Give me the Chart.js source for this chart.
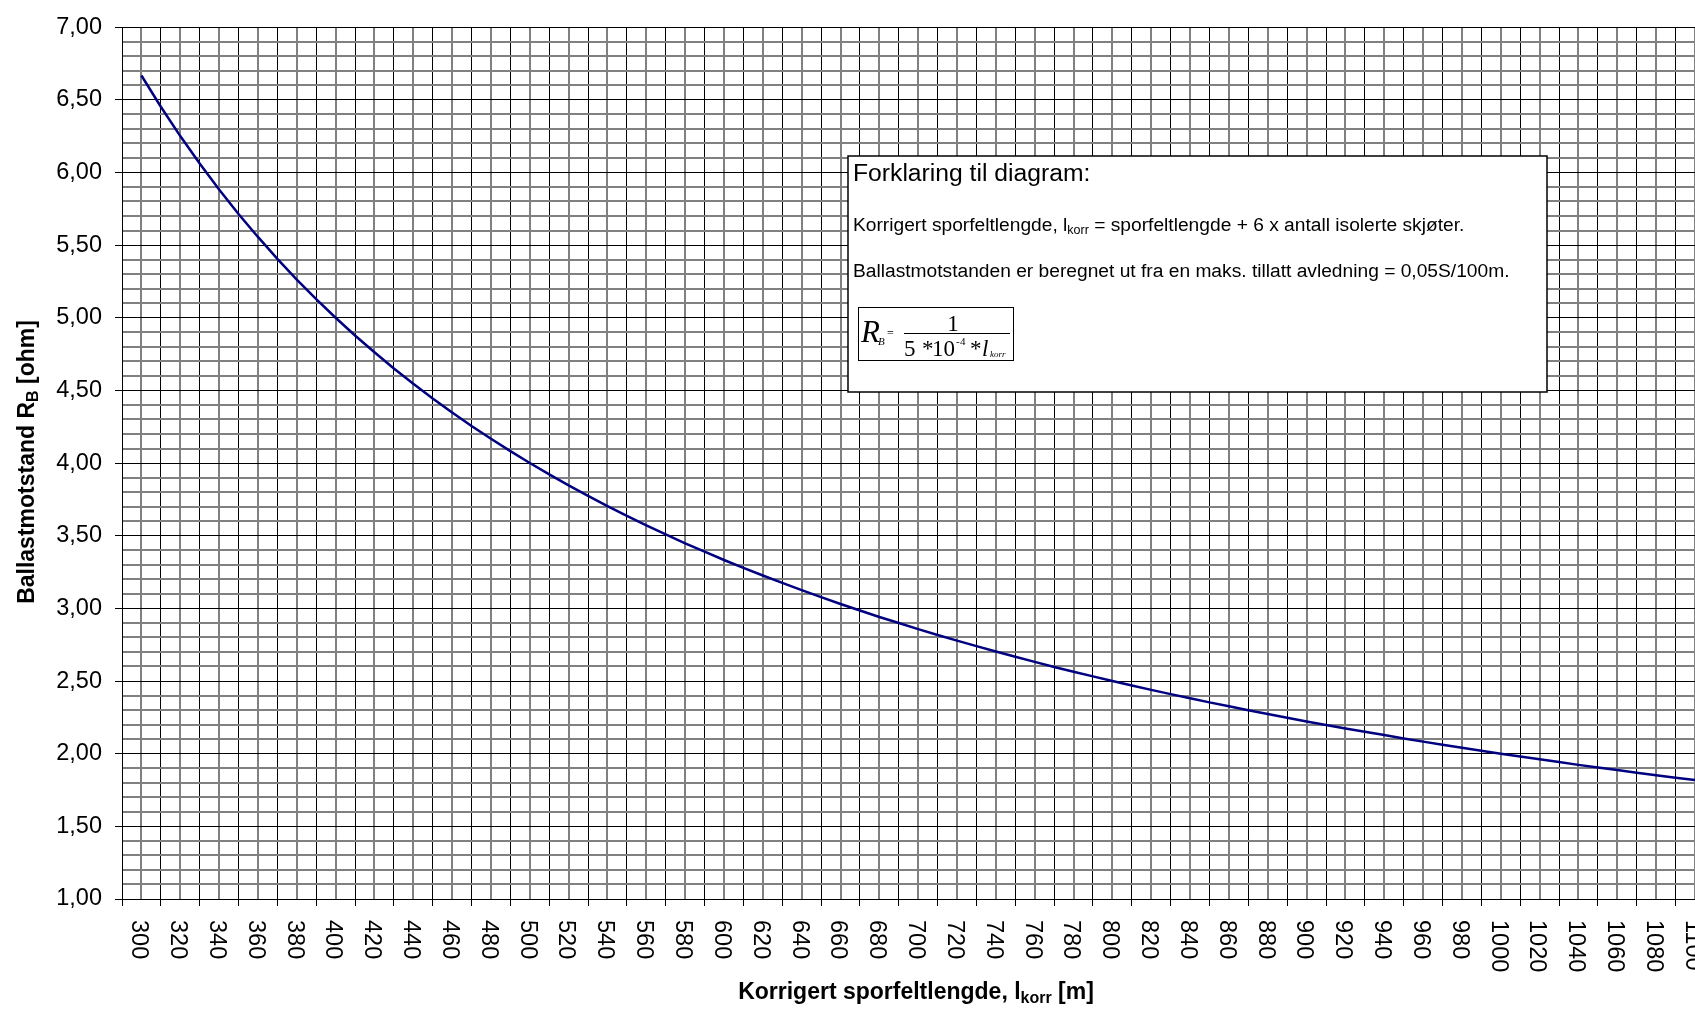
<!DOCTYPE html>
<html>
<head>
<meta charset="utf-8">
<script src="https://cdn.jsdelivr.net/npm/chart.js@4.4.1/dist/chart.umd.min.js"></script>
<style>
html, body { margin: 0; padding: 0; background: #fff; }
#wrap { width: 1695px; height: 1012px; }
</style>
</head>
<body>
<div id="wrap"><canvas id="chart"></canvas></div>
<script>
// korrigert sporfeltlengde [m]
const lengths = [
    300, 310, 320, 330, 340, 350, 360, 370, 380, 390,
    400, 410, 420, 430, 440, 450, 460, 470, 480, 490,
    500, 510, 520, 530, 540, 550, 560, 570, 580, 590,
    600, 610, 620, 630, 640, 650, 660, 670, 680, 690,
    700, 710, 720, 730, 740, 750, 760, 770, 780, 790,
    800, 810, 820, 830, 840, 850, 860, 870, 880, 890,
    900, 910, 920, 930, 940, 950, 960, 970, 980, 990,
    1000, 1010, 1020, 1030, 1040, 1050, 1060, 1070, 1080, 1090,
    1100
];

// ballastmotstand R_B [ohm]
const resistance = [
    6.667, 6.452, 6.250, 6.061, 5.882, 5.714, 5.556, 5.405, 5.263, 5.128,
    5.000, 4.878, 4.762, 4.651, 4.545, 4.444, 4.348, 4.255, 4.167, 4.082,
    4.000, 3.922, 3.846, 3.774, 3.704, 3.636, 3.571, 3.509, 3.448, 3.390,
    3.333, 3.279, 3.226, 3.175, 3.125, 3.077, 3.030, 2.985, 2.941, 2.899,
    2.857, 2.817, 2.778, 2.740, 2.703, 2.667, 2.632, 2.597, 2.564, 2.532,
    2.500, 2.469, 2.439, 2.410, 2.381, 2.353, 2.326, 2.299, 2.273, 2.247,
    2.222, 2.198, 2.174, 2.151, 2.128, 2.105, 2.083, 2.062, 2.041, 2.020,
    2.000, 1.980, 1.961, 1.942, 1.923, 1.905, 1.887, 1.869, 1.852, 1.835,
    1.818
];

const xTickLabels = [
    300, 320, 340, 360, 380, 400, 420, 440, 460, 480, 500, 520, 540, 560,
    580, 600, 620, 640, 660, 680, 700, 720, 740, 760, 780, 800, 820, 840,
    860, 880, 900, 920, 940, 960, 980, 1000, 1020, 1040, 1060, 1080, 1100
];
const yTickLabels = [1, 1.5, 2, 2.5, 3, 3.5, 4, 4.5, 5, 5.5, 6, 6.5, 7];

// grid every 10 m / every 0,1 ohm
const xGrid = [];
for (let v = 290; v <= 1100; v += 10) xGrid.push(v);
const yGrid = [];
for (let k = 10; k <= 70; k++) yGrid.push(k / 10);

const SANS = 'Arial, "Liberation Sans", sans-serif';
const SERIF = '"Times New Roman", "Liberation Serif", serif';

function isYLabel(v) {
    return yTickLabels.some(t => Math.abs(t - v) < 1e-6);
}

// draws a run of text pieces, each [text, font, dy]
function drawParts(ctx, parts, x, y, center) {
    let total = 0;
    parts.forEach(p => { ctx.font = p[1]; total += ctx.measureText(p[0]).width; });
    let cx = center ? x - total / 2 : x;
    parts.forEach(p => {
        ctx.font = p[1];
        ctx.fillText(p[0], cx, y + (p[2] || 0));
        cx += ctx.measureText(p[0]).width;
    });
}

const extrasPlugin = {
    id: 'extras',
    afterDraw(chart) {
        const ctx = chart.ctx;
        const xs = chart.scales.x;
        ctx.save();
        ctx.fillStyle = '#000';

        // x tick labels, turned clockwise
        ctx.font = '23.5px ' + SANS;
        ctx.textAlign = 'left';
        ctx.textBaseline = 'middle';
        xTickLabels.forEach(v => {
            const px = xs.getPixelForValue(v);
            ctx.save();
            ctx.translate(px - 2.7, 920);
            ctx.rotate(Math.PI / 2);
            ctx.fillText(String(v), 0, 0);
            ctx.restore();
        });

        ctx.textBaseline = 'alphabetic';

        // axis titles
        drawParts(ctx, [
            ['Korrigert sporfeltlengde, l', 'bold 23px ' + SANS],
            ['korr', 'bold 16px ' + SANS, 4],
            [' [m]', 'bold 23px ' + SANS]
        ], 916, 999, true);

        ctx.save();
        ctx.translate(34, 462);
        ctx.rotate(-Math.PI / 2);
        drawParts(ctx, [
            ['Ballastmotstand R', 'bold 23px ' + SANS],
            ['B', 'bold 16px ' + SANS, 4],
            [' [ohm]', 'bold 23px ' + SANS]
        ], 0, 0, true);
        ctx.restore();

        // explanation box
        ctx.fillStyle = '#fff';
        ctx.fillRect(848, 156, 699, 236);
        ctx.strokeStyle = '#000';
        ctx.lineWidth = 1.5;
        ctx.strokeRect(848, 156, 699, 236);
        ctx.fillStyle = '#000';

        ctx.font = '24.7px ' + SANS;
        ctx.fillText('Forklaring til diagram:', 853, 181);
        drawParts(ctx, [
            ['Korrigert sporfeltlengde, l', '19.2px ' + SANS],
            ['korr', '12.5px ' + SANS, 3],
            [' = sporfeltlengde + 6 x antall isolerte skjøter.', '19.2px ' + SANS]
        ], 853, 231, false);
        ctx.font = '19.2px ' + SANS;
        ctx.fillText('Ballastmotstanden er beregnet ut fra en maks. tillatt avledning = 0,05S/100m.', 853, 277);

        // formula
        ctx.lineWidth = 1;
        ctx.strokeRect(858.5, 307.5, 155, 53);
        ctx.font = 'italic 31px ' + SERIF;
        ctx.fillText('R', 861, 342);
        ctx.font = 'italic 11px ' + SERIF;
        ctx.fillText('B', 878, 345);
        ctx.font = '12px ' + SERIF;
        ctx.fillText('=', 887, 337);
        ctx.beginPath();
        ctx.moveTo(904, 333.5);
        ctx.lineTo(1010, 333.5);
        ctx.stroke();
        ctx.font = '23px ' + SERIF;
        ctx.textAlign = 'center';
        ctx.fillText('1', 953, 331);
        ctx.textAlign = 'left';
        ctx.fillText('5', 904, 356);
        ctx.fillText('*', 922, 356);
        ctx.fillText('10', 932, 356);
        ctx.font = '11px ' + SERIF;
        ctx.fillText('-', 956, 345);
        ctx.fillText('4', 960, 345);
        ctx.font = '23px ' + SERIF;
        ctx.fillText('*', 970, 356);
        ctx.font = 'italic 23px ' + SERIF;
        ctx.fillText('l', 982, 356);
        ctx.font = 'italic 9px ' + SERIF;
        ctx.fillText('korr', 990, 357);

        ctx.restore();
    }
};

const ctx = document.getElementById('chart').getContext('2d');
const chart = new Chart(ctx, {
    type: 'line',
    data: {
        datasets: [{
            data: lengths.map((l, i) => ({ x: l, y: resistance[i] })),
            borderColor: '#000080',
            borderWidth: 2.5,
            pointRadius: 0,
            fill: false,
            tension: 0
        }]
    },
    options: {
        responsive: true,
        maintainAspectRatio: false,
        animation: false,
        layout: { padding: { top: 22, right: 0, bottom: 0, left: 0 } },
        plugins: {
            legend: { display: false },
            tooltip: { enabled: false }
        },
        scales: {
            x: {
                type: 'linear',
                min: 290,
                max: 1100,
                afterBuildTicks: s => { s.ticks = xGrid.map(v => ({ value: v })); },
                afterFit: s => { s.height = 113; },
                ticks: { display: false, autoSkip: false },
                grid: {
                    color: c => (c.tick && c.tick.value % 20 === 0) ? '#808080' : '#000',
                    lineWidth: c => (c.tick && c.tick.value % 20 === 0) ? 2 : 1,
                    tickColor: c => (c.tick && c.tick.value % 20 === 0) ? 'rgba(0,0,0,0)' : '#000',
                    tickLength: 7,
                    drawTicks: true
                },
                border: { color: '#000', width: 1 }
            },
            y: {
                type: 'linear',
                min: 1,
                max: 7,
                afterBuildTicks: s => { s.ticks = yGrid.map(v => ({ value: v })); },
                afterFit: s => { s.width = 122; },
                ticks: {
                    autoSkip: false,
                    padding: 13,
                    color: '#000',
                    font: { family: SANS, size: 23.5 },
                    callback: v => isYLabel(v) ? v.toFixed(2).replace('.', ',') : ''
                },
                grid: {
                    color: c => (c.tick && isYLabel(c.tick.value)) ? '#000' : '#808080',
                    lineWidth: c => (c.tick && isYLabel(c.tick.value)) ? 1 : 2,
                    tickColor: c => (c.tick && isYLabel(c.tick.value)) ? '#000' : 'rgba(0,0,0,0)',
                    tickLength: 7
                },
                border: { color: '#000', width: 1 }
            }
        }
    },
    plugins: [extrasPlugin]
});
</script>
</body>
</html>
